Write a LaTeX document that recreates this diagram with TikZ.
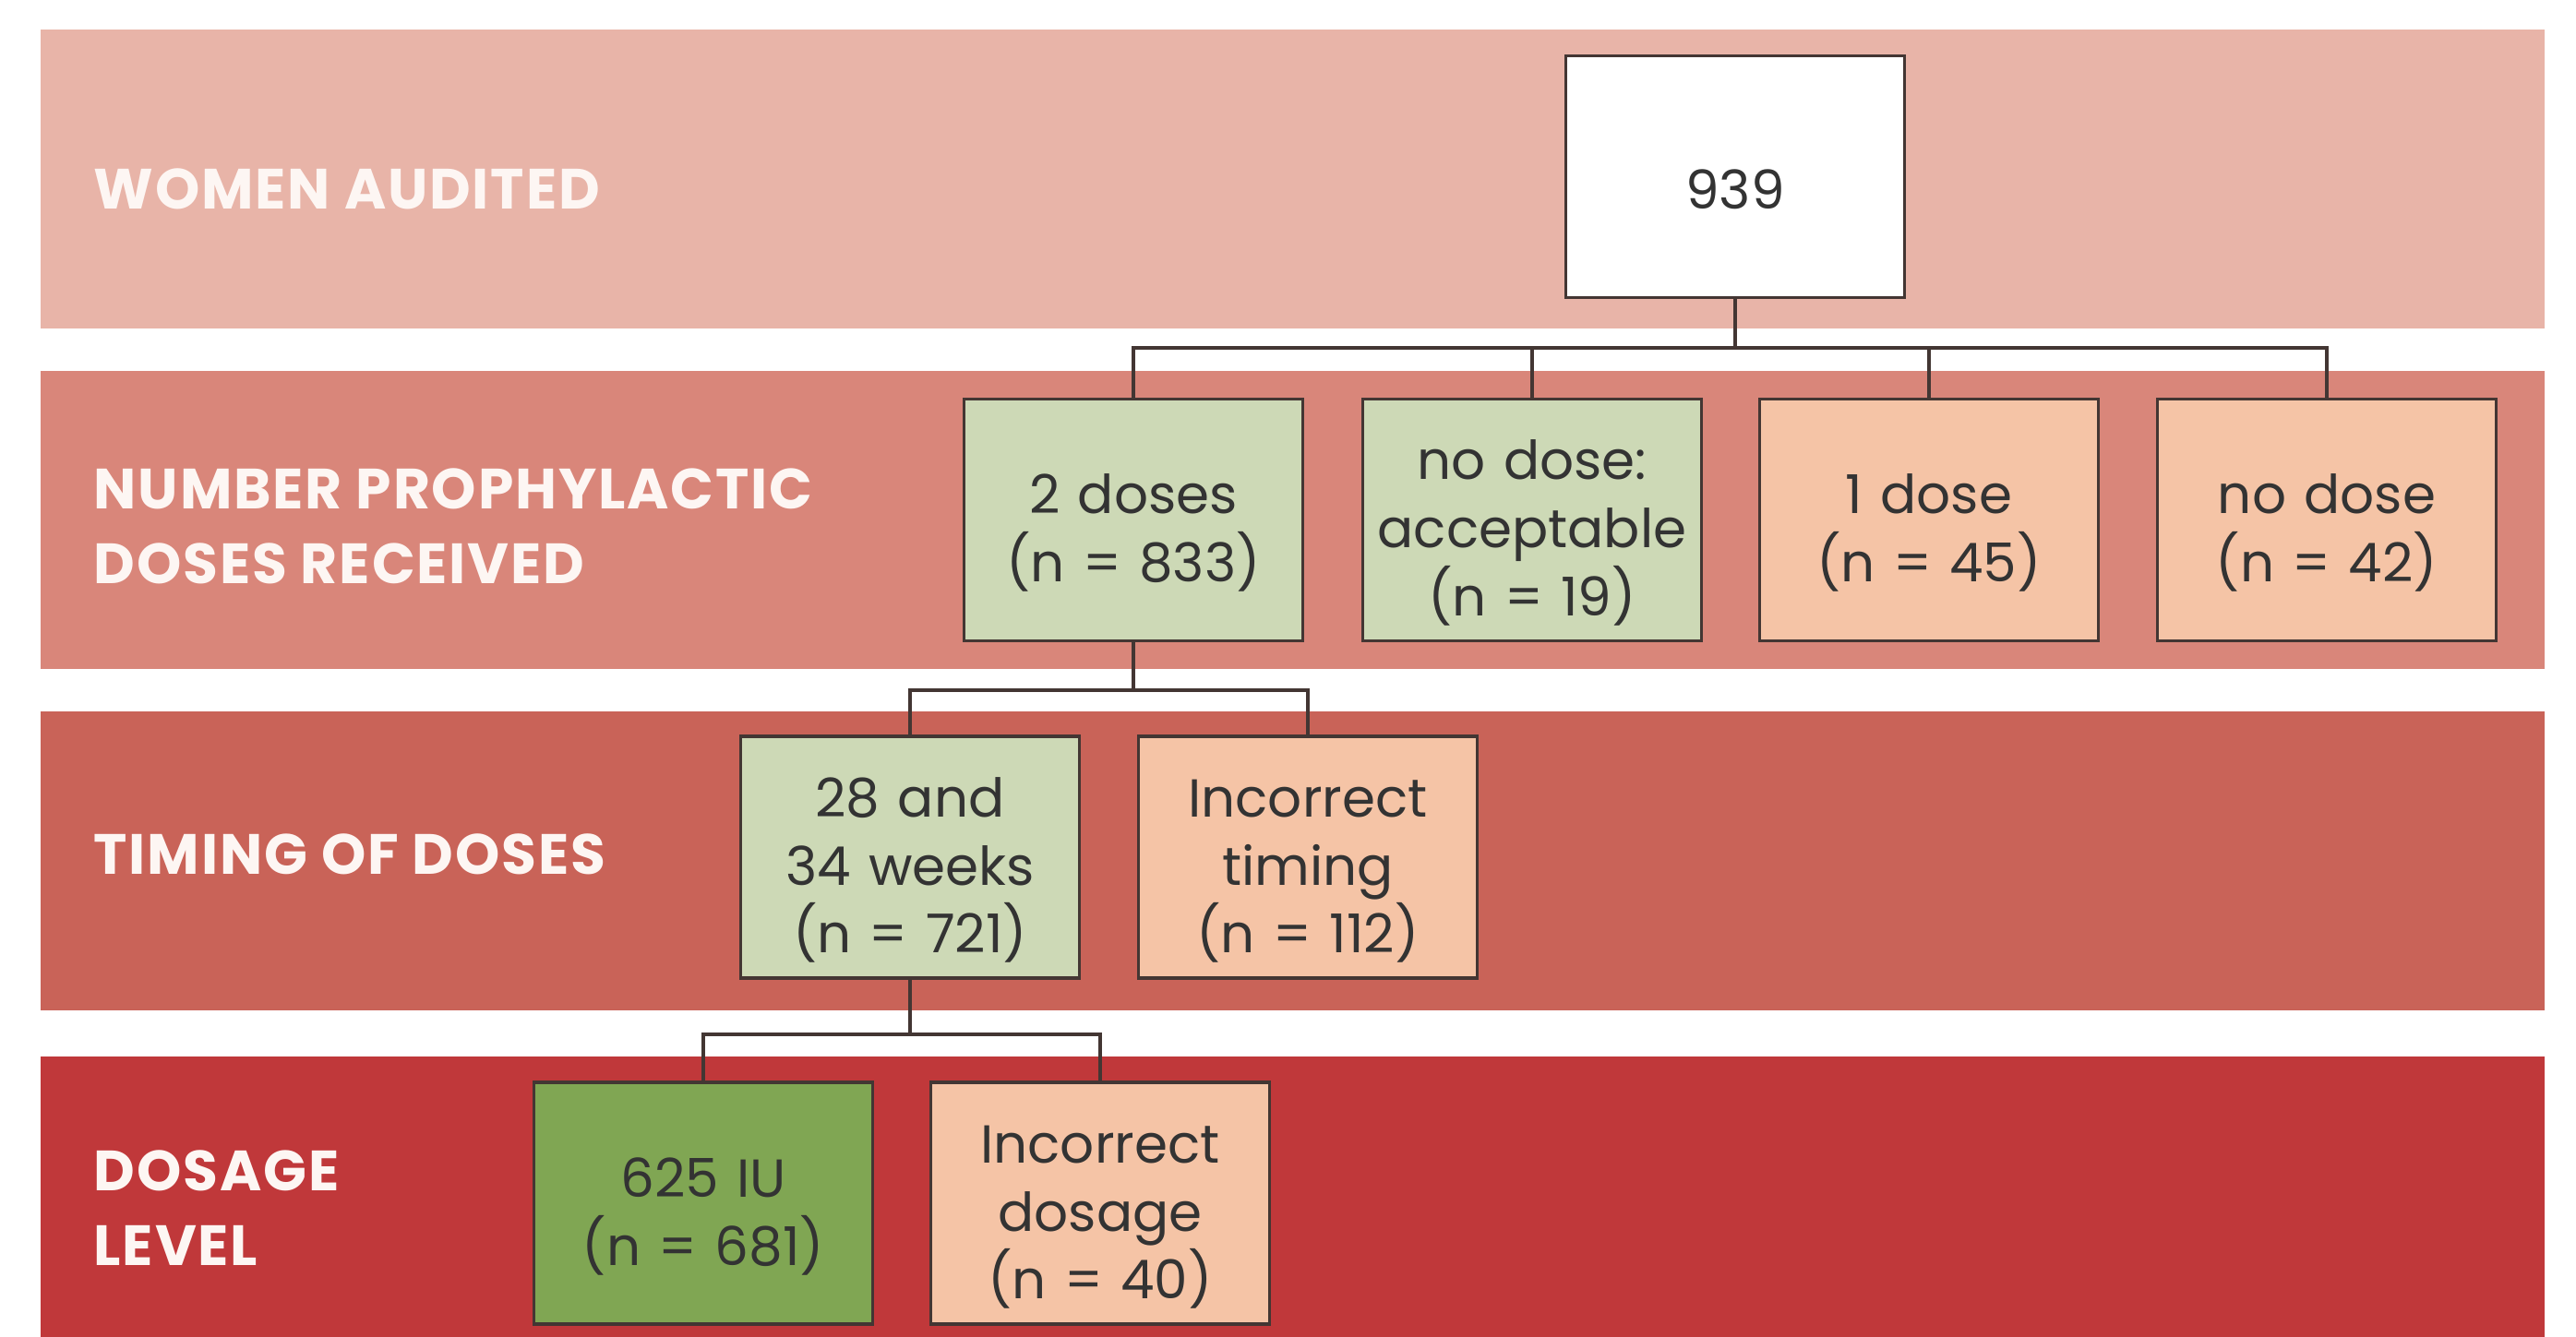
\documentclass[tikz,border=0pt]{standalone}
\usepackage{fontspec}
\setmainfont{Poppins}
\newfontfamily\bandfont{Poppins}[LetterSpace=3]
\usepackage{tikz}
\definecolor{bandA}{HTML}{E8B4A8}
\definecolor{bandB}{HTML}{D9867A}
\definecolor{bandC}{HTML}{C96358}
\definecolor{bandD}{HTML}{C0383A}
\definecolor{goodfill}{HTML}{CDD9B6}
\definecolor{bestfill}{HTML}{80A653}
\definecolor{badfill}{HTML}{F5C4A6}
\definecolor{edge}{HTML}{433633}
\definecolor{ink}{HTML}{333333}
\definecolor{labwhite}{HTML}{FDF6F3}

\begin{document}
\begin{tikzpicture}[
    box/.style={draw=edge, line width=0.9pt, minimum width=3.67cm, minimum height=2.62cm,
        text width=3.5cm, align=center, inner sep=0pt, text=ink,
        font=\fontsize{16.5}{21}\selectfont,
        execute at begin node={\rule{0pt}{0.71cm}}},
    band/.style={anchor=west, text=labwhite, align=left, inner sep=0pt,
        font=\bandfont\fontsize{17.5}{23}\selectfont\bfseries},
    link/.style={draw=edge, line width=1.1pt}
]
\useasboundingbox (0,0) rectangle (27.91,-14.49);
\fill [white] (0,0) rectangle (27.91,-14.49);
% coloured stripes
\fill [bandA] (0.44,-0.32) rectangle (27.57,-3.56);
\fill [bandB] (0.44,-4.02) rectangle (27.57,-7.25);
\fill [bandC] (0.44,-7.71) rectangle (27.57,-10.95);
\fill [bandD] (0.44,-11.45) rectangle (27.57,-14.49);
\node [band] (labA) at (1.01,-2.05) {WOMEN AUDITED};
\node [band] (labB) at (1.01,-5.70) {NUMBER PROPHYLACTIC\\DOSES RECEIVED};
\node [band] (labC) at (1.01,-9.26) {TIMING OF DOSES};
\node [band] (labD) at (1.01,-13.09) {DOSAGE\\LEVEL};
% boxes
\node [box, fill=white] (total) at (18.80,-1.915) {939};
\node [box, fill=goodfill] (twodose) at (12.28,-5.635) {2 doses\\(n = 833)};
\node [box, fill=goodfill] (nodoseok) at (16.60,-5.635) {no dose:\\acceptable\\(n = 19)};
\node [box, fill=badfill] (onedose) at (20.90,-5.635) {1 dose\\(n = 45)};
\node [box, fill=badfill] (nodose) at (25.21,-5.635) {no dose\\(n = 42)};
\node [box, fill=goodfill] (timeok) at (9.86,-9.29) {28 and\\34 weeks\\(n = 721)};
\node [box, fill=badfill] (timebad) at (14.17,-9.29) {Incorrect\\timing\\(n = 112)};
\node [box, fill=bestfill] (levelok) at (7.62,-13.04) {625 IU\\(n = 681)};
\node [box, fill=badfill] (levelbad) at (11.92,-13.04) {Incorrect\\dosage\\(n = 40)};
% connectors
\coordinate (barA) at (0,-3.77);
\coordinate (barB) at (0,-7.48);
\coordinate (barC) at (0,-11.21);
\foreach \c in {twodose,nodoseok,onedose,nodose}
    \draw [link] (total.south) -- (total.south |- barA) -| (\c.north);
\foreach \c in {timeok,timebad}
    \draw [link] (twodose.south) -- (twodose.south |- barB) -| (\c.north);
\foreach \c in {levelok,levelbad}
    \draw [link] (timeok.south) -- (timeok.south |- barC) -| (\c.north);
\end{tikzpicture}
\end{document}
